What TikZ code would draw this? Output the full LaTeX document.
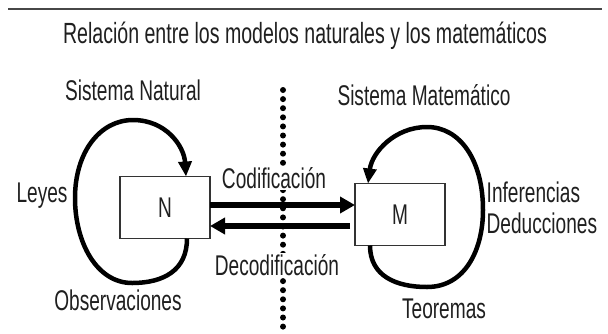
\documentclass[tikz,border=0pt]{standalone}
\usepackage{fontspec}
\setmainfont{Liberation Sans}[FakeStretch=0.67]
\usetikzlibrary{arrows.meta,calc}
\begin{document}
\begin{tikzpicture}[x=1pt,y=-1pt,
  lbl/.style={font=\fontsize{28.5}{30}\selectfont, text=black!88, inner sep=1.5pt},
  boxnode/.style={draw=black!80, line width=1.2pt, fill=white, outer sep=0pt,
    minimum width=90pt, minimum height=62pt, inner sep=0pt,
    font=\fontsize{28.5}{30}\selectfont, text=black!88},
  loopline/.style={line width=4.5pt, -{Triangle[length=15pt,width=13pt]}},
  bigarrow/.style={line width=5.5pt, -{Triangle[length=15pt,width=16pt]}},
  dotline/.style={line width=6pt, line cap=round, dash pattern=on 0pt off 9.1pt}]
\useasboundingbox (0,0) rectangle (608,333);
\draw[line width=2pt, black!72] (8,8.5) -- (602,8.5);
\node[lbl, anchor=base, font=\fontsize{29.2}{30}\selectfont] (title) at (305,43) {Relación entre los modelos naturales y los matemáticos};
% dotted divider
\draw[dotline] (283,90) -- (283,328);
% boxes
\node[boxnode] (N) at (165,207.5) {N};
\node[boxnode] (M) at (400,214.5) {M};
% labels
\node[lbl, anchor=base] (sn) at (133,100) {Sistema Natural};
\node[lbl, anchor=base] (sm) at (424,105) {Sistema Matemático};
\node[lbl, anchor=base, fill=white] (cod) at (274,188) {Codificación};
\node[lbl, anchor=base, fill=white] (dec) at (277,275) {Decodificación};
\node[lbl, anchor=base] (ley) at (42,202) {Leyes};
\node[lbl, anchor=base] (obs) at (118,310) {Observaciones};
\node[lbl, anchor=base west] (inf) at (485,202) {Inferencias};
\node[lbl, anchor=base west] (ded) at (485,233) {Deducciones};
\node[lbl, anchor=base] (teo) at (444,318) {Teoremas};
% arrows between boxes
\draw[bigarrow] ($(N.east)+(0,-2.5)$) -- ($(M.west)+(0,-9.5)$);
\draw[bigarrow] ($(M.west)+(-5,11.5)$) -- ($(N.east)+(0,18.5)$);
% loops
\draw[loopline] ($(N.south)+(22,0)$) .. controls (187,270) and (164,283) .. (132,283)
  .. controls (97,283) and (75,243) .. (75,198)
  .. controls (75,152) and (100,120) .. (133,120)
  .. controls (166,120) and (184,146) .. ($(N.north)+(21,0)$);
\draw[loopline] ($(M.south)+(-30,0)$) .. controls (370,276) and (396,287) .. (427,287)
  .. controls (465,287) and (483,250) .. (483,210)
  .. controls (483,160) and (460,127) .. (427,127)
  .. controls (395,127) and (372,152) .. ($(M.north)+(-32,0)$);
\end{tikzpicture}
\end{document}
